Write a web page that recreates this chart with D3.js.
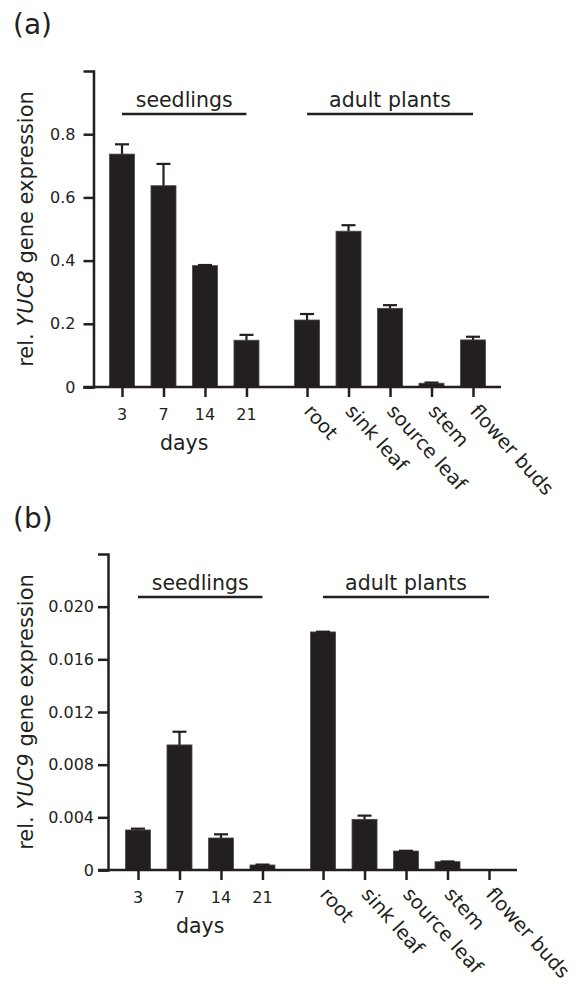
<!DOCTYPE html>
<html><head><meta charset="utf-8">
<script src="https://cdn.jsdelivr.net/npm/d3@7"></script>
<style>
body{margin:0;background:#fff}
text{font-family:"DejaVu Sans",Verdana,sans-serif;fill:#231f20}
</style>
</head><body><svg id="c" width="584" height="988"></svg>
<script>
// ---- data ----
const categories = ["3","7","14","21","root","sink leaf","source leaf","stem","flower buds"];
const rotatedFrom = 4;           // first adult-plant category (rotated labels)
const groupNames = ["seedlings","adult plants"];
const groupStart = [0,4];
const groupEnd = [3,8];
const yuc8Mean = [0.737,0.637,0.384,0.148,0.212,0.493,0.249,0.012,0.149];
const yuc8Err  = [0.031,0.069,0.002,0.017,0.019,0.019,0.010,0.002,0.010];
const yuc9Mean = [0.00304,0.0095,0.00243,0.00038,0.01808,0.00385,0.00144,0.00063,0];
const yuc9Err  = [0.00010,0.0010,0.00028,0.00003,0.00002,0.00028,0.00002,0.00002,0];
const yuc8Ticks = [0,0.2,0.4,0.6,0.8];
const yuc9Ticks = [0,0.004,0.008,0.012,0.016,0.020];

const ink = "#231f20";
const svg = d3.select("#c");
const gapSlots = 0.46;
const slot = i => i < rotatedFrom ? i : i + gapSlots;

const panels = [
  {tag:"(a)", tagY:34, gene:"YUC8", mean:yuc8Mean, err:yuc8Err, ticks:yuc8Ticks,
   fmt:d => d===0 ? "0" : d3.format(".1f")(d), ymax:1.0, pad:8,
   axisX:93.5, x0:122, x1:473, yTop:71, yBot:387},
  {tag:"(b)", tagY:528, gene:"YUC9", mean:yuc9Mean, err:yuc9Err, ticks:yuc9Ticks,
   fmt:d => d===0 ? "0" : d3.format(".3f")(d), ymax:0.024, pad:4,
   axisX:108, x0:138, x1:489, yTop:554, yBot:870}
];

panels.forEach(p => {
  const g = svg.append("g");
  const x = d3.scaleLinear().domain([slot(0), slot(categories.length-1)]).range([p.x0, p.x1]);
  const y = d3.scaleLinear().domain([0, p.ymax]).range([p.yBot, p.yTop]);
  const bw = 25;

  // panel tag
  g.append("text").attr("x", 13).attr("y", p.tagY).attr("font-size", 28).text(p.tag);

  // bars
  g.selectAll("rect.bar").data(p.mean).join("rect")
    .attr("x", (d,i) => x(slot(i)) - bw/2)
    .attr("width", bw)
    .attr("y", d => y(d))
    .attr("height", d => y(0) - y(d))
    .attr("fill", ink).attr("stroke", "#4a4647").attr("stroke-width", 0.8);

  // error bars
  const eb = g.selectAll("g.eb").data(p.mean.map((m,i)=>({m, e:p.err[i], i})).filter(d=>d.m>0)).join("g");
  eb.append("line")
    .attr("x1", d=>x(slot(d.i))).attr("x2", d=>x(slot(d.i)))
    .attr("y1", d=>y(d.m)).attr("y2", d=>y(d.m+d.e))
    .attr("stroke", ink).attr("stroke-width", 2.2);
  eb.append("line")
    .attr("x1", d=>x(slot(d.i))-7).attr("x2", d=>x(slot(d.i))+7)
    .attr("y1", d=>y(d.m+d.e)).attr("y2", d=>y(d.m+d.e))
    .attr("stroke", ink).attr("stroke-width", 2.2);

  // y axis
  const ya = g.append("g").attr("transform", `translate(${p.axisX},0)`)
    .call(d3.axisLeft(y).tickValues(p.ticks).tickFormat(p.fmt).tickSize(10).tickSizeOuter(10).tickPadding(p.pad));
  ya.selectAll("path,line").attr("stroke", ink).attr("stroke-width", 2.5);
  ya.selectAll("text").attr("font-size", 16).attr("fill", ink).style("font-family", '"DejaVu Sans",Verdana,sans-serif');

  // x axis
  const xa = g.append("g").attr("transform", `translate(0,${p.yBot})`)
    .call(d3.axisBottom(x).tickValues(categories.map((c,i)=>slot(i))).tickFormat("").tickSize(10).tickSizeOuter(0));
  xa.select("path.domain").remove();
  xa.selectAll("line").attr("stroke", ink).attr("stroke-width", 2.5);
  g.append("line").attr("x1", p.axisX-10).attr("x2", x(slot(categories.length-1))+28)
    .attr("y1", p.yBot).attr("y2", p.yBot).attr("stroke", ink).attr("stroke-width", 2.5);

  // x labels
  categories.forEach((c,i) => {
    const cx = x(slot(i));
    if (i < rotatedFrom) {
      g.append("text").attr("x", cx).attr("y", p.yBot+33).attr("text-anchor","middle")
        .attr("font-size", 16).text(c);
    } else {
      g.append("text").attr("transform", `translate(${cx-4},${p.yBot+25}) rotate(48)`)
        .attr("font-size", 19.5).text(c);
    }
  });
  g.append("text").attr("x", (x(slot(0))+x(slot(3)))/2).attr("y", p.yBot+63)
    .attr("text-anchor","middle").attr("font-size", 20.5).text("days");

  // group labels
  groupNames.forEach((name,k) => {
    const a = x(slot(groupStart[k])), b = x(slot(groupEnd[k]));
    const ly = p.yTop + 43;
    g.append("line").attr("x1", a).attr("x2", b).attr("y1", ly).attr("y2", ly)
      .attr("stroke", ink).attr("stroke-width", 2.5);
    g.append("text").attr("x", (a+b)/2).attr("y", ly-7).attr("text-anchor","middle")
      .attr("font-size", 20.5).text(name);
  });

  // y label
  const yl = g.append("text").attr("transform", `translate(33,${(p.yTop+p.yBot)/2}) rotate(-90)`)
    .attr("text-anchor","middle").attr("font-size", 21);
  yl.append("tspan").text("rel. ");
  yl.append("tspan").attr("font-style","italic").text(p.gene);
  yl.append("tspan").text(" gene expression");
});
</script></body></html>
